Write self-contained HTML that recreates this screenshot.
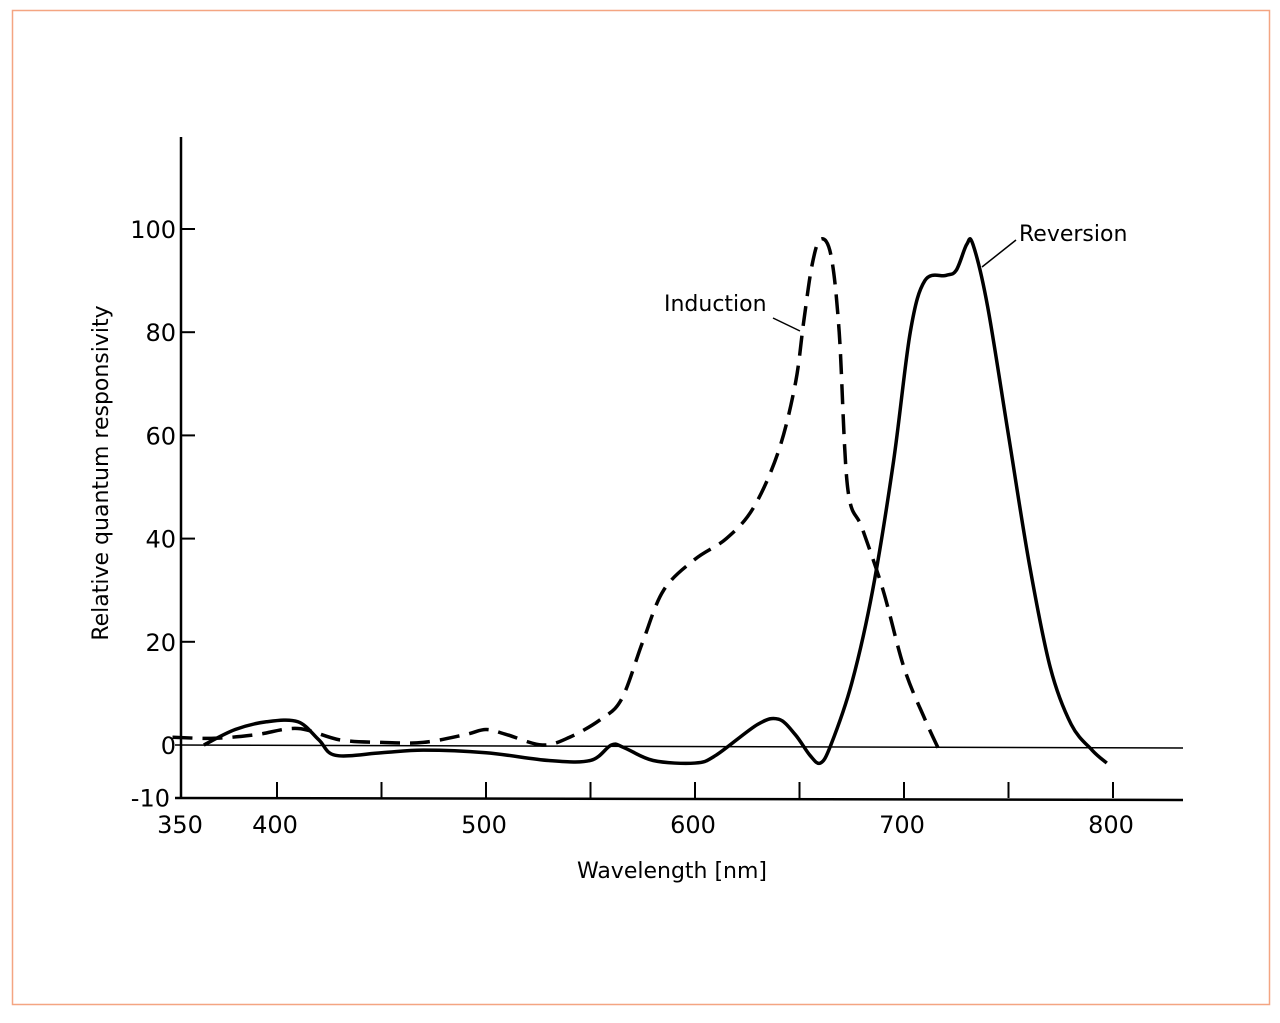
<!DOCTYPE html>
<html><head><meta charset="utf-8"><style>
body{margin:0;background:#fff;}
svg{display:block;font-family:"DejaVu Sans","Liberation Sans",sans-serif;}
</style></head><body>
<svg width="1280" height="1023">
<rect x="12.5" y="10.5" width="1257" height="994" fill="none" stroke="#f4a582" stroke-width="1.5"/>
<g id="plot"></g>
</svg>
<script>
const xTicks=[400,500,600,700,800];
const xMinor=[450,550,650,750];
const yTicks=[100,80,60,40,20,0,-10];
const indWl=[350,370,390,410,430,450,470,490,500,510,527,540,555,565,575,585,600,615,628,640,648,652,656,660,665,669,673,680,690,700,710,718];
const indVal=[1.5,1.3,2,3.2,1,0.5,0.5,2,3,2,0,1.5,5,9,20,30,36,40,46,57,70,82,93,98,95,80,50,42,30,15,5,-2];
const revWl=[365,380,395,410,420,428,450,470,500,530,550,560,566,580,600,610,630,640,648,655,660,665,675,685,695,703,710,720,725,730,733,740,750,760,770,780,790,797];
const revVal=[0,3,4.5,4.5,1,-2,-1.5,-1,-1.5,-3,-3,0,-0.5,-3,-3.5,-2,4,5,2,-2,-3.5,0,12,30,55,80,90,91,92,97,97,85,60,35,15,4,-1,-3.5];
const NS="http://www.w3.org/2000/svg";
const g=document.getElementById('plot');
const X=nm=>277+(nm-400)*2.09;
const Y=v=>745-v*5.16;
function mk(t,a){const e=document.createElementNS(NS,t);for(const k in a)e.setAttribute(k,a[k]);g.appendChild(e);return e;}
function smooth(xs,ys){const p=xs.map((x,i)=>[X(x),Y(ys[i])]);let d=`M${p[0][0]},${p[0][1]}`;
for(let i=0;i<p.length-1;i++){const p0=p[i-1]||p[i],p1=p[i],p2=p[i+1],p3=p[i+2]||p2;
d+=` C${p1[0]+(p2[0]-p0[0])/6},${p1[1]+(p2[1]-p0[1])/6} ${p2[0]-(p3[0]-p1[0])/6},${p2[1]-(p3[1]-p1[1])/6} ${p2[0]},${p2[1]}`;}return d;}
let e;
e=mk('line',{x1:181,y1:137,x2:181,y2:798,stroke:'#000','stroke-width':2.5});

e=mk('line',{x1:175,y1:798,x2:1183,y2:800,stroke:'#000','stroke-width':2.5});

e=mk('line',{x1:175,y1:745,x2:1183,y2:748,stroke:'#000','stroke-width':1.5});

xTicks.concat(xMinor).forEach(v=>{e=mk('line',{x1:X(v),y1:798,x2:X(v),y2:782,stroke:'#000','stroke-width':2});
});
e=mk('text',{x:180,y:833,'font-size':24,'text-anchor':'middle'});e.textContent='350';

xTicks.forEach(v=>{e=mk('text',{x:X(v)-2,y:833,'font-size':24,'text-anchor':'middle'});e.textContent=v;
});
yTicks.forEach(v=>{if(v!==-10&&v!==0){e=mk('line',{x1:181,y1:Y(v),x2:195,y2:Y(v),stroke:'#000','stroke-width':2});
}
e=mk('text',{x:v===-10?170:176,y:Y(v)+(v===-10?10:9),'font-size':24,'text-anchor':'end'});e.textContent=v;
});
e=mk('text',{x:672,y:878,'font-size':22,'text-anchor':'middle'});e.textContent='Wavelength [nm]';

e=mk('text',{x:0,y:0,'font-size':22,'text-anchor':'middle',transform:'translate(108,473) rotate(-90)'});e.textContent='Relative quantum responsivity';

e=mk('path',{d:smooth(indWl,indVal),fill:'none',stroke:'#000','stroke-width':3.5,'stroke-dasharray':'20 10'});

e=mk('path',{d:smooth(revWl,revVal),fill:'none',stroke:'#000','stroke-width':3.5});

e=mk('text',{x:664,y:311,'font-size':22});e.textContent='Induction';

e=mk('line',{x1:773,y1:318,x2:800,y2:331,stroke:'#000','stroke-width':1.5});

e=mk('text',{x:1019,y:241,'font-size':22});e.textContent='Reversion';

e=mk('line',{x1:1016,y1:240,x2:982,y2:267,stroke:'#000','stroke-width':1.5});

</script>
</body></html>
